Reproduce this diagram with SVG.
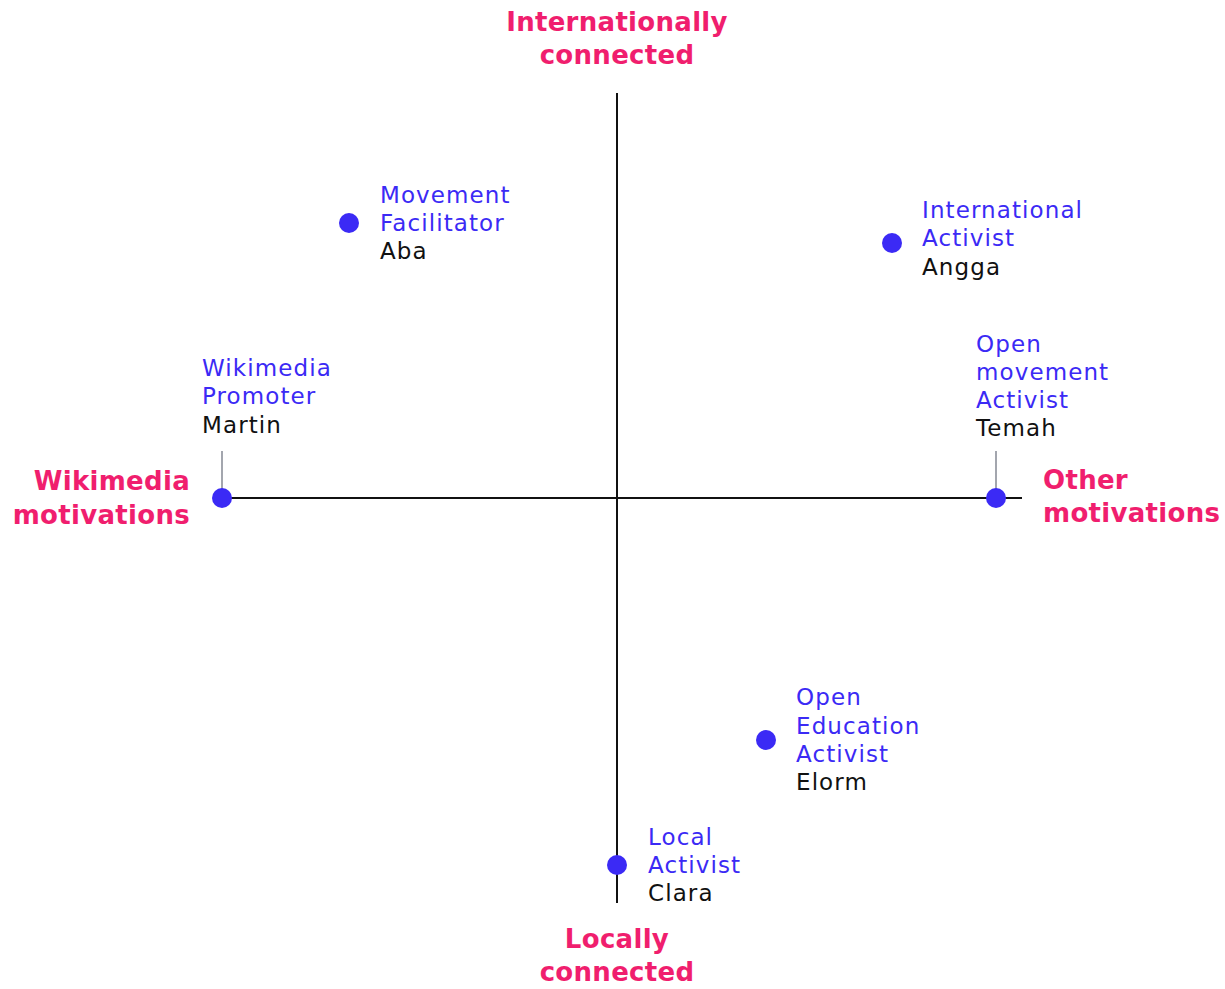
<svg xmlns="http://www.w3.org/2000/svg" width="1225" height="989" viewBox="0 0 1225 989">
<style>
.axis{stroke:#111;stroke-width:2;fill:none}
.tick{stroke:#a3a6ae;stroke-width:2;fill:none}
.dot{fill:#3b2af5}
.hd{font-family:"DejaVu Sans",sans-serif;font-weight:bold;font-size:26px;fill:#f01e6e;letter-spacing:0.3px}
.role{font-family:"DejaVu Sans",sans-serif;font-size:23px;fill:#3b2af5;letter-spacing:1.1px}
.name{font-family:"DejaVu Sans",sans-serif;font-size:23px;fill:#111;letter-spacing:1.1px}
</style>
<rect width="1225" height="989" fill="#fff"/>
<g id="connectors">
<line class="axis" x1="617" y1="93" x2="617" y2="903"/>
<line class="axis" x1="222" y1="498" x2="1022" y2="498"/>
<line class="tick" x1="222" y1="451" x2="222" y2="498"/>
<line class="tick" x1="996" y1="451" x2="996" y2="498"/>
</g>
<g id="axis-top"><text class="hd" text-anchor="middle" x="617" y="31">Internationally</text><text class="hd" text-anchor="middle" x="617" y="64">connected</text></g>
<g id="axis-bottom"><text class="hd" text-anchor="middle" x="617" y="948">Locally</text><text class="hd" text-anchor="middle" x="617" y="981">connected</text></g>
<g id="axis-left"><text class="hd" text-anchor="end" x="190" y="490">Wikimedia</text><text class="hd" text-anchor="end" x="190" y="524">motivations</text></g>
<g id="axis-right"><text class="hd" x="1043" y="489">Other</text><text class="hd" x="1043" y="522">motivations</text></g>
<g id="movement-facilitator"><circle class="dot" cx="349" cy="223" r="10"/><text class="role" x="380" y="203">Movement</text><text class="role" x="380" y="231">Facilitator</text><text class="name" x="380" y="259">Aba</text></g>
<g id="international-activist"><circle class="dot" cx="892" cy="243" r="10"/><text class="role" x="922" y="218">International</text><text class="role" x="922" y="246">Activist</text><text class="name" x="922" y="275">Angga</text></g>
<g id="wikimedia-promoter"><circle class="dot" cx="222" cy="498" r="10"/><text class="role" x="202" y="376">Wikimedia</text><text class="role" x="202" y="404">Promoter</text><text class="name" x="202" y="433">Martin</text></g>
<g id="open-movement-activist"><circle class="dot" cx="996" cy="498" r="10"/><text class="role" x="976" y="352">Open</text><text class="role" x="976" y="380">movement</text><text class="role" x="976" y="408">Activist</text><text class="name" x="976" y="436">Temah</text></g>
<g id="open-education-activist"><circle class="dot" cx="766" cy="740" r="10"/><text class="role" x="796" y="705">Open</text><text class="role" x="796" y="734">Education</text><text class="role" x="796" y="762">Activist</text><text class="name" x="796" y="790">Elorm</text></g>
<g id="local-activist"><circle class="dot" cx="617" cy="865" r="10"/><text class="role" x="648" y="845">Local</text><text class="role" x="648" y="873">Activist</text><text class="name" x="648" y="901">Clara</text></g>
</svg>
